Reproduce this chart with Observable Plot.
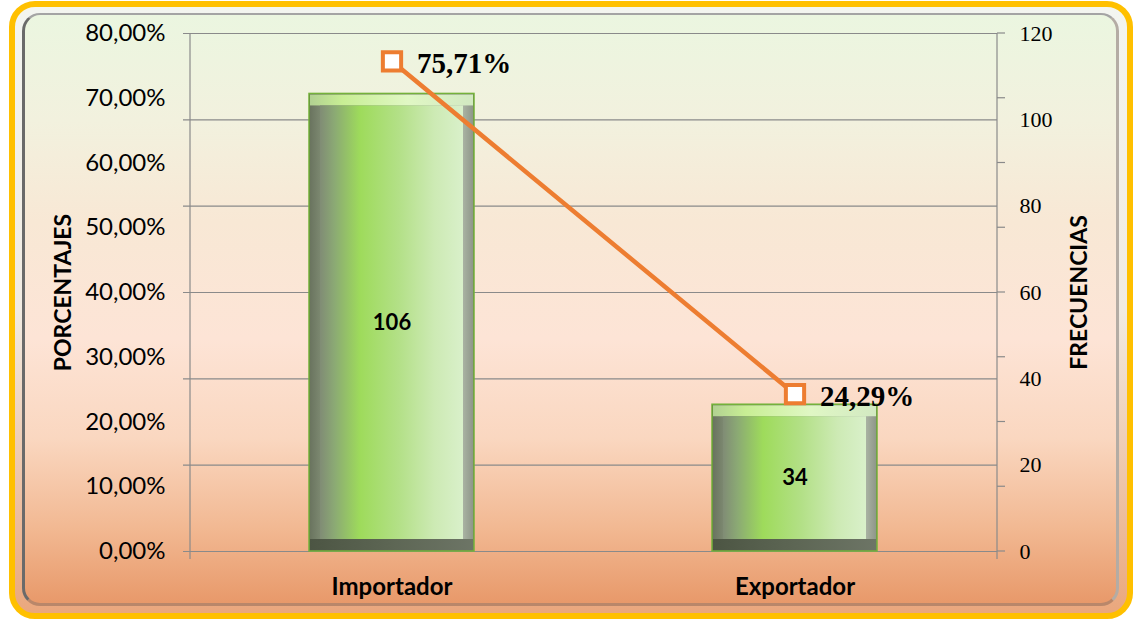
<!DOCTYPE html>
<html>
<head>
<meta charset="utf-8">
<script src="https://cdn.jsdelivr.net/npm/d3@7"></script>
<script src="https://cdn.jsdelivr.net/npm/@observablehq/plot@0.6"></script>
<style>
  html, body { margin: 0; padding: 0; background: #ffffff; }
  #wrap { position: relative; width: 1134px; height: 620px; overflow: hidden; }
  .outer { position: absolute; left: 9px; top: 1px; width: 1124px; height: 618px; box-sizing: border-box;
    border: 6px solid #FFC000; border-radius: 26px;
    background: linear-gradient(to bottom, #f3f5f0 0%, #f1ebe2 50%, #eaa77d 100%); }
  .inner { position: absolute; left: 22px; top: 13px; width: 1097px; height: 593px; box-sizing: border-box;
    border-radius: 18px;
    border-left: 3px solid #6a6a6a; border-top: 2px solid #a4a4a4; border-right: 3px solid #b4aca4; border-bottom: 3px solid #b9876a;
    background: linear-gradient(to bottom, #ebf6e0 0%, #f2f1de 18%, #f8e8d5 35%, #fde4d6 55%, #fad7c0 72%, #f2b993 87%, #e8996a 100%); }
  #chart { position: absolute; left: 0; top: 0; }
</style>
</head>
<body>
<div id="wrap">
  <div class="outer"></div>
  <div class="inner"></div>
  <div id="chart"></div>
</div>
<script>
// ---- data ----
const categories = ["Importador", "Exportador"];
const frecuencias = [106, 34];
const porcentajes = [75.71, 24.29];
const pctTicks = [0, 10, 20, 30, 40, 50, 60, 70, 80];
const freqTicks = [0, 20, 40, 60, 80, 100, 120];

const pctToFreq = 120 / 80; // dual-axis mapping: 80% <-> 120
const data = categories.map((c, i) => ({cat: c, freq: frecuencias[i], pct: porcentajes[i]}));
const fmtPct = p => p.toFixed(2).replace(".", ",") + "%";

const sans = "Lato, 'Open Sans', sans-serif";
const serif = "'Liberation Serif', 'DejaVu Serif', serif";

const axisLines = (index, scales, values, dims) => {
  const g = d3.create("svg:g").attr("stroke", "#8a8a8a").attr("stroke-width", 1.2);
  const xl = dims.marginLeft, xr = dims.width - dims.marginRight;
  const yTop = scales.y(120), yBot = scales.y(0);
  g.append("line").attr("x1", xl).attr("x2", xl).attr("y1", yTop).attr("y2", yBot + 8);
  g.append("line").attr("x1", xr).attr("x2", xr).attr("y1", yTop).attr("y2", yBot + 8);
  for (const p of pctTicks) {
    const y = scales.y(p * pctToFreq);
    g.append("line").attr("x1", xr).attr("x2", xr + 8).attr("y1", y).attr("y2", y);
  }
  return g.node();
};

const plot = Plot.plot({
  width: 1134,
  height: 620,
  marginLeft: 190,
  marginRight: 137,
  marginTop: 33,
  marginBottom: 69,
  style: {background: "transparent", overflow: "visible"},
  x: {domain: categories, paddingInner: 0.59, paddingOuter: 0.295, axis: null},
  y: {domain: [0, 120], axis: null},
  marks: [
    Plot.ruleY(freqTicks, {y: d => d, stroke: "#8a8a8a", strokeWidth: 1.2, insetLeft: -7}),
    axisLines,
    // bars with bevel layers
    Plot.barY(data, {x: "cat", y: "freq", fill: "url(#bottomBevel)", stroke: "#74b23a", strokeWidth: 1.5}),
    Plot.barY(data, {x: "cat", y: "freq", fill: "url(#topBevel)", insetBottom: 12, insetLeft: 1, insetRight: 1, insetTop: 1}),
    Plot.barY(data, {x: "cat", y: "freq", fill: "url(#sideBevel)", insetBottom: 12, insetTop: 12, insetLeft: 1, insetRight: 1}),
    Plot.barY(data, {x: "cat", y: "freq", fill: "url(#face)", insetBottom: 12, insetTop: 12, insetLeft: 11, insetRight: 11}),
    Plot.text(data, {x: "cat", y: d => d.freq / 2, text: d => String(d.freq), fontSize: 22, fontWeight: "bold", fontFamily: sans, fill: "#000"}),
    // percentage line
    Plot.line(data, {x: "cat", y: d => d.pct * pctToFreq, stroke: "#ED7D31", strokeWidth: 4.5}),
    Plot.dot(data, {x: "cat", y: d => d.pct * pctToFreq, symbol: "square", r: 10.3, stroke: "#ED7D31", strokeWidth: 4, fill: "#ffffff"}),
    Plot.text(data, {x: "cat", y: d => d.pct * pctToFreq, text: d => fmtPct(d.pct), textAnchor: "start", dx: 25, dy: 2, fontSize: 29, fontWeight: "bold", fontFamily: serif, fill: "#000"}),
    // left axis labels (percentages)
    Plot.text(pctTicks, {y: d => d * pctToFreq, text: d => fmtPct(d), frameAnchor: "left", textAnchor: "end", dx: -25, fontSize: 24, fontFamily: sans, fill: "#000"}),
    // right axis labels (frequencies)
    Plot.text(freqTicks, {y: d => d, text: d => String(d), frameAnchor: "right", textAnchor: "start", dx: 22, fontSize: 22, fontFamily: serif, fill: "#000"}),
    // category labels
    Plot.text(categories, {x: d => d, y: 0, text: d => d, dy: 36, fontSize: 24, fontWeight: "bold", fontFamily: sans, fill: "#000"}),
    // axis titles
    Plot.text(["PORCENTAJES"], {frameAnchor: "left", textAnchor: "middle", text: d => d, rotate: -90, dx: -127, fontSize: 23, fontWeight: "bold", fontFamily: sans, fill: "#000"}),
    Plot.text(["FRECUENCIAS"], {frameAnchor: "right", textAnchor: "middle", text: d => d, rotate: -90, dx: 82, fontSize: 23, fontWeight: "bold", fontFamily: sans, fill: "#000"})
  ]
});

const svg = d3.select(plot);
const defs = svg.insert("defs", ":first-child");
function grad(id, stops) {
  const g = defs.append("linearGradient").attr("id", id).attr("x1", 0).attr("x2", 1).attr("y1", 0).attr("y2", 0);
  for (const [o, c] of stops) g.append("stop").attr("offset", o).attr("stop-color", c);
}
grad("face", [[0, "#808c75"], [0.1, "#8ba974"], [0.28, "#9edb5b"], [0.55, "#b3e087"], [0.8, "#cdeab4"], [1, "#d9f0ca"]]);
grad("topBevel", [[0, "#b2d192"], [0.2, "#c8ee94"], [0.6, "#e0f7c4"], [1, "#d2e9c2"]]);
grad("sideBevel", [[0, "#6a745f"], [0.06, "#7b876f"], [0.5, "#94a385"], [0.94, "#a9b2a2"], [1, "#8f978a"]]);
grad("bottomBevel", [[0, "#4c5543"], [0.5, "#5d6654"], [1, "#6d7566"]]);

document.getElementById("chart").appendChild(plot);
</script>
</body>
</html>
